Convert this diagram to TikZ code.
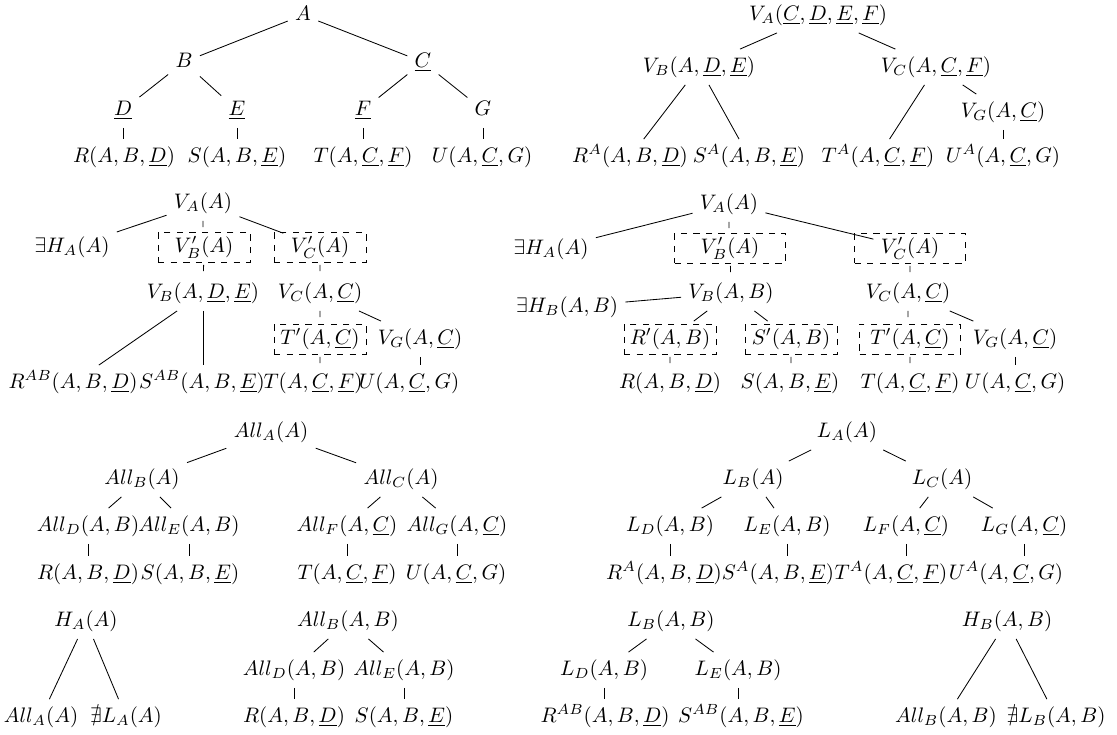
\documentclass[tikz,border=0pt]{standalone}
\usepackage{amssymb}
\begin{document}
\begin{tikzpicture}[x=0.476pt,y=-0.476pt,
  every node/.style={inner sep=3.33pt, text height=7.5pt, text depth=2.5pt},
  dbox/.style={draw, dashed, inner sep=0pt, text height=0pt, text depth=0pt, minimum height=14.3pt},
  dl/.style={dashed}]
\useasboundingbox (0,0) rectangle (1117,734);
% ---------- tree 1
\node (t1a) at (303,15) {$A$};
\node (t1b) at (184,62) {$B$};
\node (t1c) at (423,62) {$\underline{C}$};
\node (t1d) at (123,110) {$\underline{D}$};
\node (t1e) at (237,110) {$\underline{E}$};
\node (t1f) at (363,110) {$\underline{F}$};
\node (t1g) at (483,110) {$G$};
\node (t1r) at (124,157) {$R(A,B,\underline{D})$};
\node (t1s) at (237,157) {$S(A,B,\underline{E})$};
\node (t1t) at (363,157) {$T(A,\underline{C},\underline{F})$};
\node (t1u) at (482,157) {$U(A,\underline{C},G)$};
\draw (t1a)--(t1b) (t1a)--(t1c) (t1b)--(t1d) (t1b)--(t1e) (t1c)--(t1f) (t1c)--(t1g);
\draw (t1d.south)--(t1d.south|-t1r.north) (t1e.south)--(t1e.south|-t1s.north)
      (t1f.south)--(t1f.south|-t1t.north) (t1g.south)--(t1g.south|-t1u.north);
% ---------- tree 2
\node (t2a) at (818,15) {$V_A(\underline{C},\underline{D},\underline{E},\underline{F})$};
\node (t2b) at (699,67) {$V_B(A,\underline{D},\underline{E})$};
\node (t2c) at (936,67) {$V_C(A,\underline{C},\underline{F})$};
\node (t2g) at (1003,112) {$V_G(A,\underline{C})$};
\node (t2r) at (630,157) {$R^A(A,B,\underline{D})$};
\node (t2s) at (749,157) {$S^A(A,B,\underline{E})$};
\node (t2t) at (878,157) {$T^A(A,\underline{C},\underline{F})$};
\node (t2u) at (1003,157) {$U^A(A,\underline{C},G)$};
\draw (t2a)--(t2b) (t2a)--(t2c) (t2b)--(t2r) (t2b)--(t2s) (t2c)--(t2t) (t2c)--(t2g);
\draw (t2g.south)--(t2g.south|-t2u.north);
% ---------- tree 3
\node (t3a) at (203,203) {$V_A(A)$};
\node (t3h) at (72,247) {$\exists H_A(A)$};
\node (t3vb) at (204,247) {$V'_B(A)$};
\node[dbox, minimum width=43.8pt] (t3vbx) at (t3vb) {};
\node (t3vc) at (320,247) {$V'_C(A)$};
\node[dbox, minimum width=43.8pt] (t3vcx) at (t3vc) {};
\node (t3b) at (203,293) {$V_B(A,\underline{D},\underline{E})$};
\node (t3c) at (320,293) {$V_C(A,\underline{C})$};
\node (t3tp) at (320,339) {$T'(A,\underline{C})$};
\node[dbox, minimum width=43.8pt] (t3tpx) at (t3tp) {};
\node (t3g) at (420,339) {$V_G(A,\underline{C})$};
\node (t3r) at (73,383) {$R^{AB}(A,B,\underline{D})$};
\node (t3s) at (202,383) {$S^{AB}(A,B,\underline{E})$};
\node (t3t) at (313,383) {$T(A,\underline{C},\underline{F})$};
\node (t3u) at (409,383) {$U(A,\underline{C},G)$};
\draw (t3a)--(t3h) (t3a)--(t3vc) (t3b)--(t3r) (t3c)--(t3g);
\draw[dl] (t3a.south)--(t3a.south|-t3vb.north) (t3vb)--(t3b) (t3vc)--(t3c) (t3c)--(t3tp)
      (t3tp.south)--(t3tp.south|-t3t.north);
\draw (t3b.south)--(t3b.south|-t3s.north) (t3g.south)--(t3g.south|-t3u.north);
% ---------- tree 4
\node (t4a) at (729,204) {$V_A(A)$};
\node (t4h) at (551,249) {$\exists H_A(A)$};
\node (t4vb) at (730,248) {$V'_B(A)$};
\node[dbox, minimum width=52.8pt] (t4vbx) at (t4vb) {};
\node (t4vc) at (910,248) {$V'_C(A)$};
\node[dbox, minimum width=52.8pt] (t4vcx) at (t4vc) {};
\node (t4b) at (731,293) {$V_B(A,B)$};
\node (t4c) at (908,293) {$V_C(A,\underline{C})$};
\node (t4hb) at (567,307) {$\exists H_B(A,B)$};
\node (t4rp) at (670,339) {$R'(A,B)$};
\node[dbox, minimum width=43.8pt] (t4rpx) at (t4rp) {};
\node (t4sp) at (791,339) {$S'(A,B)$};
\node[dbox, minimum width=43.8pt] (t4spx) at (t4sp) {};
\node (t4tp) at (910,339) {$T'(A,\underline{C})$};
\node[dbox, minimum width=48pt] (t4tpx) at (t4tp) {};
\node (t4g) at (1015,339) {$V_G(A,\underline{C})$};
\node (t4r) at (670,383) {$R(A,B,\underline{D})$};
\node (t4s) at (790,383) {$S(A,B,\underline{E})$};
\node (t4t) at (910,383) {$T(A,\underline{C},\underline{F})$};
\node (t4u) at (1015,383) {$U(A,\underline{C},G)$};
\draw (t4a)--(t4h) (t4a)--(t4vc) (t4hb)--(t4b) (t4b)--(t4rp) (t4b)--(t4sp) (t4c)--(t4g);
\draw[dl] (t4a.south)--(t4a.south|-t4vb.north) (t4vb)--(t4b) (t4vc.south)--(t4vc.south|-t4c.north)
      (t4c.south)--(t4c.south|-t4tp.north)
      (t4rp.south)--(t4rp.south|-t4r.north) (t4sp.south)--(t4sp.south|-t4s.north)
      (t4tp.south)--(t4tp.south|-t4t.north);
\draw (t4g.south)--(t4g.south|-t4u.north);
% ---------- tree 5
\node (t5a) at (271,432) {$All_A(A)$};
\node (t5b) at (142,479) {$All_B(A)$};
\node (t5c) at (401,479) {$All_C(A)$};
\node (t5d) at (88,526) {$All_D(A,B)$};
\node (t5e) at (189,526) {$All_E(A,B)$};
\node (t5f) at (347,526) {$All_F(A,\underline{C})$};
\node (t5g) at (457,526) {$All_G(A,\underline{C})$};
\node (t5r) at (88,574) {$R(A,B,\underline{D})$};
\node (t5s) at (190,574) {$S(A,B,\underline{E})$};
\node (t5t) at (347,574) {$T(A,\underline{C},\underline{F})$};
\node (t5u) at (456,574) {$U(A,\underline{C},G)$};
\draw (t5a)--(t5b) (t5a)--(t5c) (t5b)--(t5d) (t5b)--(t5e) (t5c)--(t5f) (t5c)--(t5g);
\draw (t5d.south)--(t5d.south|-t5r.north) (t5e.south)--(t5e.south|-t5s.north)
      (t5f.south)--(t5f.south|-t5t.north) (t5g.south)--(t5g.south|-t5u.north);
% ---------- tree 6
\node (t6a) at (847,432) {$L_A(A)$};
\node (t6b) at (753,479) {$L_B(A)$};
\node (t6c) at (942,479) {$L_C(A)$};
\node (t6d) at (670,526) {$L_D(A,B)$};
\node (t6e) at (787,526) {$L_E(A,B)$};
\node (t6f) at (906,526) {$L_F(A,\underline{C})$};
\node (t6g) at (1024,526) {$L_G(A,\underline{C})$};
\node (t6r) at (664,574) {$R^A(A,B,\underline{D})$};
\node (t6s) at (778,574) {$S^A(A,B,\underline{E})$};
\node (t6t) at (891,574) {$T^A(A,\underline{C},\underline{F})$};
\node (t6u) at (1006,574) {$U^A(A,\underline{C},G)$};
\draw (t6a)--(t6b) (t6a)--(t6c) (t6b)--(t6d) (t6b)--(t6e) (t6c)--(t6f) (t6c)--(t6g);
\draw (t6d.south)--(t6d.south|-t6r.north) (t6e.south)--(t6e.south|-t6s.north)
      (t6f.south)--(t6f.south|-t6t.north) (t6g.south)--(t6g.south|-t6u.north);
% ---------- tree 7
\node (t7h) at (86,621) {$H_A(A)$};
\node (t7a) at (41,717) {$All_A(A)$};
\node (t7n) at (126,717) {$\nexists L_A(A)$};
\draw (t7h)--(t7a) (t7h)--(t7n);
% ---------- tree 8
\node (t8a) at (348,621) {$All_B(A,B)$};
\node (t8d) at (294,670) {$All_D(A,B)$};
\node (t8e) at (404,670) {$All_E(A,B)$};
\node (t8r) at (294,717) {$R(A,B,\underline{D})$};
\node (t8s) at (404,717) {$S(A,B,\underline{E})$};
\draw (t8a)--(t8d) (t8a)--(t8e);
\draw (t8d.south)--(t8d.south|-t8r.north) (t8e.south)--(t8e.south|-t8s.north);
% ---------- tree 9
\node (t9a) at (671,621) {$L_B(A,B)$};
\node (t9d) at (604,670) {$L_D(A,B)$};
\node (t9e) at (738,670) {$L_E(A,B)$};
\node (t9r) at (605,717) {$R^{AB}(A,B,\underline{D})$};
\node (t9s) at (741,717) {$S^{AB}(A,B,\underline{E})$};
\draw (t9a)--(t9d) (t9a)--(t9e);
\draw (t9d.south)--(t9d.south|-t9r.north) (t9e.south)--(t9e.south|-t9s.north);
% ---------- tree 10
\node (t10h) at (1007,621) {$H_B(A,B)$};
\node (t10a) at (946,717) {$All_B(A,B)$};
\node (t10n) at (1056,717) {$\nexists L_B(A,B)$};
\draw (t10h)--(t10a) (t10h)--(t10n);
\end{tikzpicture}
\end{document}
